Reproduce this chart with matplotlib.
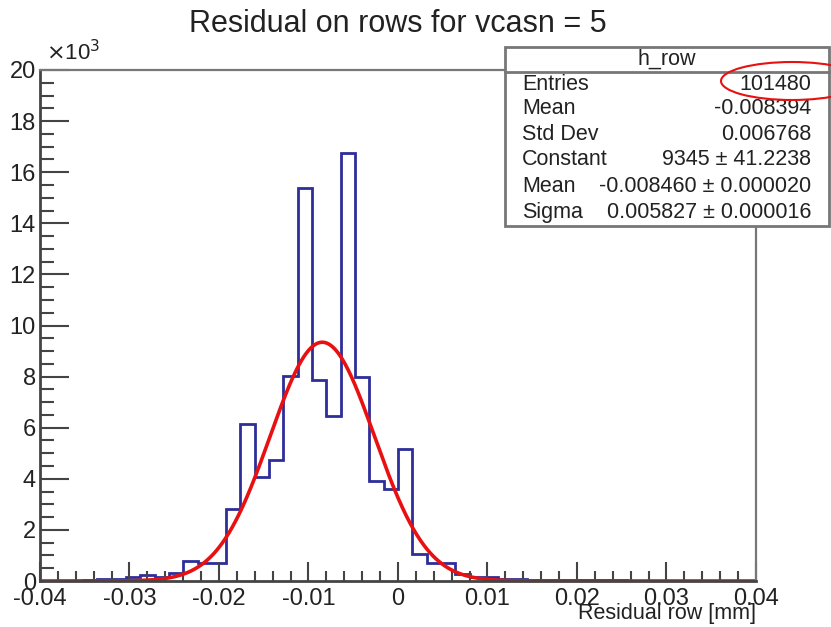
import numpy as np
import matplotlib.pyplot as plt
from matplotlib.patches import Rectangle, Ellipse

plt.rcParams['font.family'] = ['Liberation Sans', 'DejaVu Sans']

# histogram h_row: 50 bins from -0.04 to 0.04 (counts)
x_min, x_max, n_bins = -0.04, 0.04, 50
counts = [10, 10, 15, 20, 90, 90, 150, 220, 140, 300,
          780, 690, 690, 2820, 6130, 4070, 4730, 8020, 15380, 7870,
          6460, 16750, 8000, 3930, 3600, 5170, 1060, 690, 690, 280,
          160, 160, 90, 90, 50, 50, 30, 25, 25, 20,
          20, 15, 15, 10, 10, 10, 10, 5, 5, 5]

# fit result (gaus)
fit_const = 9345
fit_mean = -0.008460
fit_sigma = 0.005827

stat_names = ["Entries", "Mean", "Std Dev", "Constant", "Mean", "Sigma"]
stat_values = ["101480", "-0.008394", "0.006768", "9345 ± 41.2238",
               "-0.008460 ± 0.000020", "0.005827 ± 0.000016"]

W, H = 831, 627
fig = plt.figure(figsize=(W/100, H/100), dpi=100)
ax = fig.add_axes([40/W, 1-581/H, (756-40)/W, (581-70)/H])

edges = np.linspace(x_min, x_max, n_bins+1)
ax.stairs(np.array(counts)/1000, edges, color='#2e2e9a', lw=2)

xf = np.linspace(x_min, x_max, 1000)
yf = fit_const*np.exp(-0.5*((xf-fit_mean)/fit_sigma)**2)
ax.plot(xf, yf/1000, color='#e81010', lw=2.6)

ax.set_xlim(x_min, x_max)
ax.set_ylim(0, 20)
ax.set_xticks(np.arange(-0.04, 0.0401, 0.01))
ax.set_xticklabels(["-0.04", "-0.03", "-0.02", "-0.01", "0", "0.01", "0.02", "0.03", "0.04"])
ax.set_xticks(np.arange(-0.04, 0.0401, 0.002), minor=True)
ax.set_yticks(np.arange(0, 21, 2))
ax.set_yticks(np.arange(0, 20.01, 0.5), minor=True)
ax.tick_params(axis='both', which='both', direction='in', color='#444', labelsize=17,
               labelcolor='#222', top=False, right=False)
ax.tick_params(axis='y', which='major', length=21, width=1.5, pad=3)
ax.tick_params(axis='y', which='minor', length=10, width=1.5)
ax.tick_params(axis='x', which='major', length=14, width=1.5, pad=5)
ax.tick_params(axis='x', which='minor', length=7, width=1.5)
for s in ['left', 'bottom']:
    ax.spines[s].set_color('#444')
    ax.spines[s].set_linewidth(2)
for s in ['top', 'right']:
    ax.spines[s].set_color('#777')
    ax.spines[s].set_linewidth(1.6)

fig.text(398/W, 1-24/H, "Residual on rows for vcasn = 5", ha='center', va='center',
         fontsize=22, color='#222')
fig.text(46/W, 1-53/H, r"$\times$10$^{3}$", ha='left', va='center', fontsize=16, color='#222')
fig.text(756/W, 1-614/H, "Residual row [mm]", ha='right', va='center', fontsize=15.5, color='#222')

# stats box
bx0, by0, bx1, by1 = 505, 47, 829, 226
fig.patches.append(Rectangle((bx0/W, 1-by1/H), (bx1-bx0)/W, (by1-by0)/H,
                             transform=fig.transFigure, facecolor='white',
                             edgecolor='#777', lw=2, zorder=5))
fig.lines.append(plt.Line2D([bx0/W, bx1/W], [1-72/H, 1-72/H], transform=fig.transFigure,
                            color='#777', lw=2, zorder=6))
fig.text((bx0+bx1)/2/W, 1-59/H, "h_row", ha='center', va='center', fontsize=15.5,
         color='#222', zorder=7)
rows_y = [84, 109, 134, 160, 186, 212]
for name, val, yy in zip(stat_names, stat_values, rows_y):
    fig.text(522/W, 1-yy/H, name, ha='left', va='center', fontsize=15.5, color='#222', zorder=7)
    fig.text(811/W, 1-yy/H, val, ha='right', va='center', fontsize=15.5, color='#222', zorder=7)

fig.patches.append(Ellipse((792/W, 1-81/H), 142/W, 38/H, transform=fig.transFigure,
                           fill=False, edgecolor='#e81010', lw=1.5, zorder=8))

fig.savefig("out.png", dpi=100)
